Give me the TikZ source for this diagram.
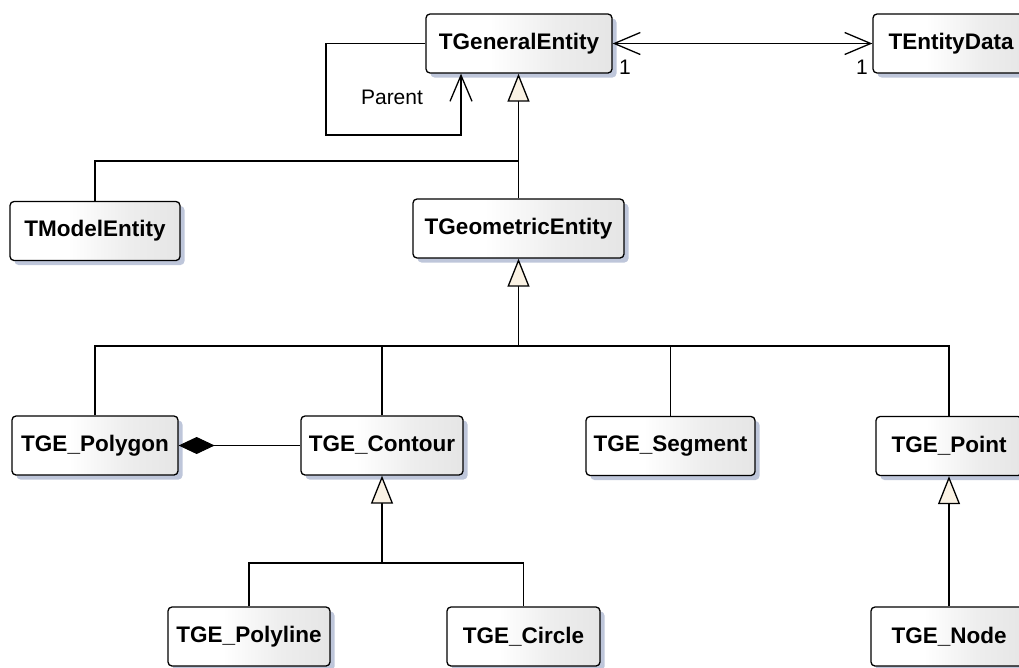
\documentclass[tikz,border=0pt]{standalone}
\usepackage{fontspec}
\setmainfont{Liberation Sans}
\usetikzlibrary{arrows.meta,shadows}
\definecolor{shadowc}{RGB}{190,198,218}
\definecolor{cream}{RGB}{250,242,228}
% white on the left, fading to light grey on the right
\pgfdeclarehorizontalshading{boxshade}{100bp}{color(0bp)=(white); color(25bp)=(white); color(42bp)=(white); color(60bp)=(black!7); color(75bp)=(black!10); color(100bp)=(black!10)}

\begin{document}
\begin{tikzpicture}[x=1pt,y=-1pt,
  cls/.style={draw=black, line width=1.3pt, rounded corners=4pt, shading=boxshade,
    drop shadow={shadow xshift=4.5pt, shadow yshift=-4.5pt, fill=shadowc, opacity=1},
    minimum height=59pt, inner sep=0pt, font=\fontsize{22.5}{26}\selectfont\bfseries},
  ln/.style={line width=1.4pt},
  gen/.style={ln, -{Triangle[length=28pt,width=22pt,fill=cream,line width=1.3pt]}},
  comp/.style={ln, {Diamond[length=36pt,width=17pt,fill=black,line width=1pt]}-},
  nav/.style={ln, -{Straight Barb[length=26pt,width=22pt,line width=1.3pt]}},
  binav/.style={ln, {Straight Barb[length=26pt,width=22pt,line width=1.3pt]}-{Straight Barb[length=26pt,width=22pt,line width=1.3pt]}},
  lbl/.style={font=\fontsize{21}{24}\selectfont, inner sep=0pt}
]
\useasboundingbox (0,0) rectangle (1019,667);
\clip (0,0) rectangle (1019,667);

% classes
\node[cls, minimum width=186pt] (ge)   at (519,43.5)   {TGeneralEntity};
\node[cls, minimum width=156pt] (ed)   at (951,43.5)   {TEntityData};
\node[cls, minimum width=170pt] (me)   at (95,231)     {TModelEntity};
\node[cls, minimum width=211pt] (geo)  at (518.5,228.5){TGeometricEntity};
\node[cls, minimum width=166pt] (poly) at (95,445.5)   {TGE\_Polygon};
\node[cls, minimum width=162pt] (cont) at (382,445.5)  {TGE\_Contour};
\node[cls, minimum width=169pt] (seg)  at (670.5,446)  {TGE\_Segment};
\node[cls, minimum width=146pt] (pt)   at (949,446)    {TGE\_Point};
\node[cls, minimum width=156pt] (nd)   at (949,636.5)  {TGE\_Node};
\node[cls, minimum width=162pt] (pl)   at (249,636.5)  {TGE\_Polyline};
\node[cls, minimum width=153pt] (ci)   at (523.5,636.5){TGE\_Circle};

% routing points
\coordinate (loopL) at (326,135);
\coordinate (loopR) at (461,135);
\coordinate (meJoin) at (519,161);
\coordinate (busy) at (0,346);
\coordinate (suby) at (0,563);

% self association "Parent"
\draw[nav] (ge.west) -| (loopL) -- (loopR) -- (loopR |- ge.south);
\node[lbl] (parent) at (392,97) {Parent};

% association to TEntityData
\draw[binav] (ge.east) -- (ed.west);
\node[lbl] (m1) at (625,67) {1};
\node[lbl] (m2) at (862,67) {1};

% generalisations
\draw[gen] (geo.north) -- (geo.north |- ge.south);
\draw[ln] (me.north) |- (meJoin);

\draw[gen] (geo.south |- busy) -- (geo.south);
\draw[ln] (poly.north) |- (pt.north |- busy) -- (pt.north);
\draw[ln] (cont.north) -- (cont.north |- busy);
\draw[ln] (seg.north) -- (seg.north |- busy);

\draw[gen] (cont.south |- suby) -- (cont.south);
\draw[ln] (pl.north) |- (ci.north |- suby) -- (ci.north);

\draw[gen] (nd.north) -- (pt.south);

% composition
\draw[comp] (poly.east) -- (cont.west);
\end{tikzpicture}
\end{document}
